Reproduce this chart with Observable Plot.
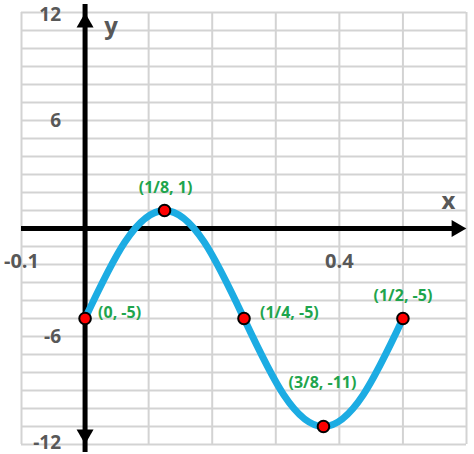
<!DOCTYPE html>
<html>
<head>
<meta charset="utf-8">
<script src="https://cdn.jsdelivr.net/npm/d3@7"></script>
<script src="https://cdn.jsdelivr.net/npm/@observablehq/plot@0.6"></script>
<style>
  html, body { margin: 0; padding: 0; background: #fff; }
  #chart svg { display: block; }
</style>
</head>
<body>
<div id="chart"></div>
<script>
// Curve samples (x in units, y value)
const curveX = [0, 1/16, 1/8, 3/16, 1/4, 5/16, 3/8, 7/16, 1/2];
const curveY = [-5, -0.76, 1, -0.76, -5, -9.24, -11, -9.24, -5];

// Labelled key points
const keyX = [0, 1/8, 1/4, 3/8, 1/2];
const keyY = [-5, 1, -5, -11, -5];
const keyLabels = ["(0, -5)", "(1/8, 1)", "(1/4, -5)", "(3/8, -11)", "(1/2, -5)"];

// Axis tick labels
const xTickValues = [-0.1, 0.4];
const xTickLabels = ["-0.1", "0.4"];
const yTickValues = [12, 6, -6, -12];
const yTickLabels = ["12", "6", "-6", "-12"];

// Grid lines
const xGrid = [-0.1, 0, 0.1, 0.2, 0.3, 0.4, 0.5, 0.6];
const yGrid = d3.range(-12, 13, 1);

const xDomain = [-0.1, 0.6];
const yDomain = [-12, 12];

const curve = curveX.map((x, i) => ({x, y: curveY[i]}));
const keys = keyX.map((x, i) => ({x, y: keyY[i], label: keyLabels[i]}));

// label placement (style, not data)
const labelStyle = [
  {anchor: "start", dx: 13, dy: -6},
  {anchor: "middle", dx: 1, dy: -23},
  {anchor: "start", dx: 16, dy: -6},
  {anchor: "middle", dx: -1, dy: -44},
  {anchor: "middle", dx: 0, dy: -23}
];
// small nudges keeping the edge tick labels inside the picture
const yTickNudge = [2, 0, 0, -2];

const green = "#1fa54d";
const gray = "#585858";

const chart = Plot.plot({
  width: 474,
  height: 454,
  marginLeft: 21,
  marginRight: 8,
  marginTop: 12,
  marginBottom: 10,
  x: {domain: xDomain, axis: null},
  y: {domain: yDomain, axis: null},
  style: {fontFamily: "'Open Sans', sans-serif", background: "white", overflow: "visible"},
  marks: [
    Plot.ruleX(xGrid, {stroke: "#d3d3d3", strokeWidth: 2}),
    Plot.ruleY(yGrid, {stroke: "#d3d3d3", strokeWidth: 2}),
    // axes
    Plot.ruleY([0], {x1: xDomain[0], x2: xDomain[1], insetRight: 8, stroke: "black", strokeWidth: 5}),
    Plot.ruleX([0], {y1: yDomain[0], y2: yDomain[1], insetTop: 8, insetBottom: 8, stroke: "black", strokeWidth: 5}),
    Plot.dot([{x: 0, y: yDomain[1]}], {x: "x", y: "y", symbol: "triangle", r: 6.3, fill: "black", dy: 10}),
    Plot.dot([{x: 0, y: yDomain[0]}], {x: "x", y: "y", symbol: "triangle", r: 6.3, fill: "black", dy: -10, rotate: 180}),
    Plot.dot([{x: xDomain[1], y: 0}], {x: "x", y: "y", symbol: "triangle", r: 6.3, fill: "black", dx: -10, rotate: 90}),
    // tick labels
    ...yTickValues.map((v, i) => Plot.text([{y: v, t: yTickLabels[i]}], {
      x: 0, y: "y", text: "t", dx: -24, dy: yTickNudge[i], textAnchor: "end", fill: gray,
      fontSize: 19, fontWeight: 700
    })),
    Plot.text(xTickValues.map((v, i) => ({x: v, t: xTickLabels[i]})), {
      x: "x", y: 0, text: "t", dy: 33, textAnchor: "middle", fill: gray,
      fontSize: 20, fontWeight: 700
    }),
    // axis names
    Plot.text(["x"], {x: xDomain[1], y: 0, text: d => d, dx: -18, dy: -27, fill: gray, fontSize: 24, fontWeight: 700}),
    Plot.text(["y"], {x: 0, y: yDomain[1], text: d => d, dx: 26, dy: 14, fill: gray, fontSize: 24, fontWeight: 700}),
    // curve
    Plot.line(curve, {x: "x", y: "y", curve: "natural", stroke: "#1cace3", strokeWidth: 7, strokeLinecap: "butt"}),
    Plot.dot(keys, {x: "x", y: "y", r: 5.8, fill: "#ff0000", stroke: "black", strokeWidth: 2}),
    ...keys.map((k, i) => Plot.text([k], {
      x: "x", y: "y", text: "label",
      dx: labelStyle[i].dx, dy: labelStyle[i].dy, textAnchor: labelStyle[i].anchor,
      fill: green, fontSize: 16, fontWeight: 700
    }))
  ]
});
document.getElementById("chart").appendChild(chart);
</script>
</body>
</html>
